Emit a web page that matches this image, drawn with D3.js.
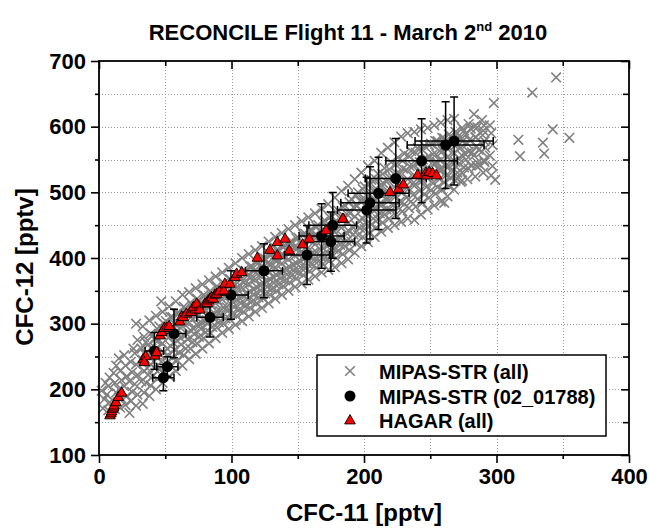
<!DOCTYPE html>
<html><head><meta charset="utf-8">
<script src="https://cdn.jsdelivr.net/npm/d3@7"></script>
<style>
html,body{margin:0;padding:0;background:#fff;}
svg{display:block;font-family:"Liberation Sans",Arial,sans-serif;}
</style></head>
<body><div id="chart"></div>
<script>
// ---------- DATA ----------
const titleMain = "RECONCILE Flight 11 - March 2";
const titleSup = "nd";
const titleEnd = " 2010";
const xLabel = "CFC-11 [pptv]";
const yLabel = "CFC-12 [pptv]";
const xTicks = [0, 100, 200, 300, 400];
const yTicks = [100, 200, 300, 400, 500, 600, 700];
const xMinor = [50, 150, 250, 350];
const yMinor = [150, 250, 350, 450, 550, 650];
const seriesNames = ["MIPAS-STR (all)", "MIPAS-STR (02_01788)", "HAGAR (all)"];

// MIPAS-STR (all): [CFC-11, CFC-12]  (band edges)
const mipasAll = [
[3,171],[4,185],[2,198],[5,210],
[7,168],[8,180],[6,192],[7,205],[8,218],
[12,170],[11,182],[13,195],[12,210],[11,225],[13,236],
[16,172],[17,186],[15,200],[17,214],[16,228],[15,247],
[20,176],[21,190],[19,205],[21,220],[20,236],[19,252],
[23,164],[24,182],[25,196],[23,212],[25,226],[24,242],[26,262],
[28,175],[29,192],[27,208],[29,222],[28,238],[27,255],[28,300],[29,275],
[33,178],[34,195],[32,212],[34,228],[33,245],[32,262],[34,280],[33,296],
[38,190],[39,206],[37,222],[39,238],[38,252],[37,268],[39,285],[38,305],
[43,200],[44,216],[42,232],[44,248],[43,262],[42,276],[44,292],[43,312],
[48,210],[49,226],[47,242],[49,256],[48,270],[47,284],[49,300],[48,318],[47,334],
[53,220],[54,236],[52,252],[54,266],[53,280],[52,294],[54,310],[53,326],
[58,228],[59,244],[57,260],[59,274],[58,288],[57,300],[59,316],[58,334],
[63,236],[64,252],[62,268],[64,282],[63,296],[62,310],[64,326],[63,344],
[68,246],[69,262],[67,276],[69,290],[68,302],[67,316],[69,332],[68,348],
[73,254],[74,270],[72,284],[74,298],[73,310],[72,324],[74,338],[73,354],
[78,262],[79,278],[77,292],[79,305],[78,318],[77,330],[79,344],[78,360],
[83,270],[84,286],[82,300],[84,312],[83,324],[82,336],[84,350],[83,366],
[88,278],[89,294],[87,307],[89,319],[88,331],[87,343],[89,357],[88,372],
[93,286],[94,300],[92,313],[94,325],[93,337],[92,349],[94,362],[93,378],
[98,292],[99,306],[97,319],[99,331],[98,343],[97,355],[99,368],[98,385],
[103,298],[104,312],[102,325],[104,337],[103,349],[102,361],[104,374],[103,392],
[108,304],[109,318],[107,331],[109,343],[108,355],[107,367],[109,381],[108,400],
[113,311],[114,324],[112,337],[114,349],[113,361],[112,373],[114,387],[113,406],
[118,318],[119,331],[117,344],[119,356],[118,368],[117,380],[119,394],[118,412],
[123,324],[124,338],[122,350],[124,362],[123,374],[122,386],[124,400],[123,418],
[128,331],[129,344],[127,356],[129,368],[128,380],[127,392],[129,406],[128,425],
[133,338],[134,350],[132,362],[134,374],[133,386],[132,398],[134,412],[133,432],
[138,344],[139,357],[137,369],[139,380],[138,392],[137,404],[139,418],[138,438],
[143,350],[144,363],[142,375],[144,386],[143,398],[142,410],[144,424],[143,444],
[148,356],[149,369],[147,381],[149,392],[148,404],[147,416],[149,430],[148,450],
[153,361],[154,374],[152,386],[154,398],[153,410],[152,422],[154,436],[153,456],
[158,367],[159,380],[157,392],[159,404],[158,416],[157,428],[159,442],[158,462],
[163,372],[164,385],[162,397],[164,409],[163,421],[162,433],[164,448],[163,468],
[168,378],[169,391],[167,403],[169,415],[168,427],[167,440],[169,455],[168,475],
[173,382],[174,396],[172,409],[174,421],[173,433],[172,446],[174,462],[173,482],
[178,386],[179,400],[177,414],[179,427],[178,440],[177,453],[179,470],[178,492],
[183,392],[184,406],[182,420],[184,433],[183,446],[182,460],[184,478],[183,502],
[188,398],[189,412],[187,426],[189,440],[188,453],[187,467],[189,485],[188,510],
[193,408],[194,422],[192,436],[194,450],[193,463],[192,477],[194,495],[193,520],
[198,418],[199,432],[197,446],[199,460],[198,473],[197,487],[199,505],[198,530],
[203,424],[204,438],[202,452],[204,466],[203,480],[202,494],[204,512],[203,540],
[208,432],[209,446],[207,460],[209,474],[208,488],[207,502],[209,520],[208,548],
[213,440],[214,454],[212,468],[214,482],[213,496],[212,510],[214,528],[213,560],
[218,446],[219,460],[217,474],[219,488],[218,502],[217,516],[219,535],[218,568],
[223,450],[224,466],[222,480],[224,494],[223,508],[222,522],[224,542],[223,576],
[228,455],[229,471],[227,486],[229,500],[228,514],[227,528],[229,548],[228,585],
[233,460],[234,476],[232,492],[234,506],[233,520],[232,534],[234,555],[233,590],
[238,458],[239,478],[237,496],[239,512],[238,526],[237,540],[239,560],[238,592],
[243,466],[244,484],[242,502],[244,518],[243,532],[242,546],[244,565],[243,596],
[248,474],[249,492],[247,508],[249,524],[248,538],[247,552],[249,572],[248,598],
[253,480],[254,498],[252,514],[254,530],[253,544],[252,558],[254,578],[253,602],
[258,486],[259,504],[257,520],[259,535],[258,549],[257,563],[259,583],[258,606],
[263,494],[264,510],[262,526],[264,540],[263,554],[262,568],[264,588],[263,610],
[268,504],[269,518],[267,532],[269,546],[268,560],[267,574],[269,592],[268,612],
[273,516],[274,530],[272,544],[274,556],[273,568],[272,582],[274,598],
[278,520],[279,536],[277,550],[279,562],[278,574],[277,588],[279,604],
[284,524],[285,540],[283,556],[285,570],[284,584],[283,600],[283,619],
[290,530],[291,546],[289,562],[291,578],[290,594],[289,610],
[296,526],[297,540],[295,556],[297,572],[296,590],[295,602],[298,636],[299,519],
[327,652],[345,675],[316.5,580],[317.7,555],[335,575.6],[336,559],[342.4,596],[355,583],
[287.5,541.6],[260.6,484],[274,518],[270,521],[255,546],[257,534]
];
// MIPAS-STR (all): dense core of the band
const mipasCore = [
[35.5,210],[36.5,232],[34.5,254],[35.5,272],
[40.5,220],[41.5,242],[39.5,262],[40.5,282],
[45.5,230],[46.5,252],[44.5,274],[45.5,296],
[50.5,240],[51.5,262],[49.5,284],[50.5,304],
[55.5,248],[56.5,270],[54.5,292],[55.5,310],
[60.5,256],[61.5,278],[59.5,298],[60.5,316],
[65.5,262],[66.5,284],[64.5,304],[65.5,322],
[70.5,272],[71.5,292],[69.5,310],[70.5,328],
[75.5,280],[76.5,298],[74.5,316],[75.5,334],
[80.5,287],[81.5,305],[79.5,323],[80.5,340],
[85.5,295],[86.5,313],[84.5,330],[85.5,346],
[90.5,302],[91.5,319],[89.5,336],[90.5,352],
[95.5,308],[96.5,325],[94.5,342],[95.5,358],
[100.5,315],[101.5,332],[99.5,349],[100.5,365],
[105.5,321],[106.5,338],[104.5,356],[105.5,373],
[110.5,327],[111.5,345],[109.5,363],[110.5,380],
[115.5,334],[116.5,352],[114.5,370],[115.5,387],
[120.5,340],[121.5,358],[119.5,376],[120.5,393],
[125.5,346],[126.5,364],[124.5,382],[125.5,399],
[130.5,353],[131.5,371],[129.5,389],[130.5,406],
[135.5,360],[136.5,378],[134.5,396],[135.5,412],
[140.5,366],[141.5,384],[139.5,402],[140.5,419],
[145.5,373],[146.5,390],[144.5,408],[145.5,425],
[150.5,378],[151.5,396],[149.5,414],[150.5,431],
[155.5,384],[156.5,402],[154.5,420],[155.5,437],
[160.5,390],[161.5,408],[159.5,426],[160.5,443],
[165.5,395],[166.5,414],[164.5,432],[165.5,450],
[170.5,400],[171.5,419],[169.5,438],[170.5,457],
[175.5,405],[176.5,425],[174.5,445],[175.5,464],
[180.5,411],[181.5,432],[179.5,452],[180.5,472],
[185.5,418],[186.5,439],[184.5,460],[185.5,480],
[190.5,425],[191.5,447],[189.5,468],[190.5,490],
[195.5,435],[196.5,457],[194.5,479],[195.5,500],
[200.5,444],[201.5,466],[199.5,488],[200.5,509],
[205.5,451],[206.5,474],[204.5,497],[205.5,519],
[210.5,459],[211.5,482],[209.5,505],[210.5,528],
[215.5,466],[216.5,490],[214.5,514],[215.5,537],
[220.5,472],[221.5,497],[219.5,522],[220.5,546],
[225.5,477],[226.5,503],[224.5,529],[225.5,553],
[230.5,482],[231.5,509],[229.5,536],[230.5,559],
[235.5,486],[236.5,513],[234.5,540],[235.5,563],
[240.5,490],[241.5,518],[239.5,545],[240.5,567],
[245.5,497],[246.5,524],[244.5,550],[245.5,571],
[250.5,503],[251.5,529],[249.5,554],[250.5,574],
[255.5,508],[256.5,534],[254.5,558],[255.5,578],
[260.5,515],[261.5,540],[259.5,563],[260.5,582],
[265.5,522],[266.5,546],[264.5,568],[265.5,586],
[270.5,530],[271.5,552],[269.5,573],[270.5,590],
[275.5,538],[276.5,558],[274.5,578],[275.5,594],
[280.5,541],[281.5,561],[279.5,580],[280.5,597],
[285.5,545],[286.5,565],[284.5,584],[285.5,599],
[290.5,549],[291.5,568],[289.5,587],[290.5,602]
];

// MIPAS-STR (02_01788): CFC-11, CFC-12, error CFC-11, error CFC-12
const mipasX  = [41.8, 48.6, 51.6, 56.6, 83.8, 99.6, 124.5, 157, 168, 175, 176.4, 202, 204.5, 211, 224, 243.5, 261.6, 268];
const mipasY  = [258.4, 217.7, 234.5, 285, 309.7, 343.6, 380.6, 404.5, 433.5, 425, 449.7, 473, 484, 498.5, 521, 548, 572, 578];
const mipasEx = [7, 8, 8, 9, 10, 13, 14, 17, 17, 18, 18, 22, 22, 23, 23, 27, 29, 29.5];
const mipasEy = [28, 20, 15, 37, 30, 37, 41, 45, 49, 45, 50, 50, 55, 55, 61, 64, 66, 67];

// HAGAR (all): [CFC-11, CFC-12]
const hagar = [
[8.3,161],[9,164],[9.6,167],[10.3,171],[11,173],[11.3,176],[12.8,181],[14.6,189],[17.1,195.5],
[33.4,247],[35.2,251],[42.3,252],[34.2,242],[43.5,257],[46,282.7],[47.3,287.8],[49.3,294],[51,294.5],[53,297],
[61.1,304],[62.4,311.7],[63.6,310.6],[66,315.8],[68.7,318],[70,318.5],[72.5,322],[71.2,325.8],[74.9,328.4],
[73.7,331],[76.2,322],[80,331],[81.7,332],[82.5,336],[83.8,338.6],[85,341],[86.2,338.6],[87.5,344.7],
[88.8,346],[90.8,349.7],[94.3,351],[95,361.5],[98.9,361.4],[102.6,371.5],[103.9,376.7],[107.7,379],
[119.5,401],[129,413],[134.6,404.5],[134.6,424.8],[140.4,430],[143.6,412],[153.7,421.3],[158.7,430],
[171.3,442.6],[184.4,460],[184,460.5],[219.6,501],[226,506],[229.7,512.7],
[240.5,527.5],[246.8,530.5],[247.3,526.4],[249.3,531.5],[251.8,530],[254.8,526.4]
];

// ---------- CHART ----------
const W = 650, H = 529;
const svg = d3.select("#chart").append("svg").attr("width", W).attr("height", H);
const x = d3.scaleLinear().domain([0, 400]).range([99, 629]);
const y = d3.scaleLinear().domain([100, 700]).range([455, 61]);

// grid
const grid = svg.append("g").attr("stroke", "#9a9a9a").attr("stroke-width", 1).attr("stroke-dasharray", "1,2");
const gx = xTicks.concat(xMinor).filter(v => v > 0 && v < 400);
const gy = yTicks.concat(yMinor).filter(v => v > 100 && v < 700);
grid.selectAll("line.gx").data(gx).join("line").attr("x1", d => Math.round(x(d)) + 0.5).attr("x2", d => Math.round(x(d)) + 0.5).attr("y1", y(700)).attr("y2", y(100));
grid.selectAll("line.gy").data(gy).join("line").attr("y1", d => Math.round(y(d)) + 0.5).attr("y2", d => Math.round(y(d)) + 0.5).attr("x1", x(0)).attr("x2", x(400));

// MIPAS all (gray crosses)
const cs = 4.8;
const cross = (px, py) => `M${px-cs},${py-cs}L${px+cs},${py+cs}M${px-cs},${py+cs}L${px+cs},${py-cs}`;
svg.append("g").attr("stroke", "#808080").attr("stroke-width", 1.6).attr("fill", "none")
  .selectAll("path").data(mipasAll.concat(mipasCore)).join("path")
  .attr("d", d => cross(x(d[0]), y(d[1])));

// MIPAS 02_01788 with error bars
const mip = mipasX.map((v, i) => ({x: v, y: mipasY[i], ex: mipasEx[i], ey: mipasEy[i]}));
const eb = svg.append("g").attr("stroke", "#000").attr("stroke-width", 1.5).attr("fill", "none");
const cap = 4;
eb.selectAll("path").data(mip).join("path").attr("d", d => {
  const px = x(d.x), py = y(d.y);
  const x0 = x(d.x - d.ex), x1 = x(d.x + d.ex), y0 = y(d.y - d.ey), y1 = y(d.y + d.ey);
  return `M${x0},${py}L${x1},${py}M${x0},${py-cap}L${x0},${py+cap}M${x1},${py-cap}L${x1},${py+cap}` +
         `M${px},${y0}L${px},${y1}M${px-cap},${y0}L${px+cap},${y0}M${px-cap},${y1}L${px+cap},${y1}`;
});
svg.append("g").selectAll("circle").data(mip).join("circle")
  .attr("cx", d => x(d.x)).attr("cy", d => y(d.y)).attr("r", 5.5).attr("fill", "#000");

// HAGAR triangles
const tri = (px, py) => `M${px},${py-5.4}L${px+5.3},${py+3.9}L${px-5.3},${py+3.9}Z`;
svg.append("g").attr("fill", "#ff0000").attr("stroke", "#000").attr("stroke-width", 0.9)
  .selectAll("path").data(hagar).join("path").attr("d", d => tri(x(d[0]), y(d[1])));

// axes
const fontTick = 22;
function styleAxis(g) {
  g.select(".domain").remove();
  g.selectAll(".tick line").attr("stroke", "#000").attr("stroke-width", 1.6);
  g.selectAll("text").attr("font-size", fontTick).attr("font-weight", "bold").attr("fill", "#000")
   .attr("font-family", "'Liberation Sans', Arial, sans-serif");
}
svg.append("g").attr("transform", `translate(0,${y(100)})`)
  .call(d3.axisBottom(x).tickValues(xTicks).tickSize(8).tickPadding(5).tickFormat(d3.format("d"))).call(styleAxis);
svg.append("g").attr("transform", `translate(0,${y(100)})`)
  .call(d3.axisBottom(x).tickValues(xMinor).tickSize(4).tickFormat("")).call(styleAxis);
svg.append("g").attr("transform", `translate(${x(0)},0)`)
  .call(d3.axisLeft(y).tickValues(yTicks).tickSize(8).tickPadding(5).tickFormat(d3.format("d"))).call(styleAxis);
svg.append("g").attr("transform", `translate(${x(0)},0)`)
  .call(d3.axisLeft(y).tickValues(yMinor).tickSize(4).tickFormat("")).call(styleAxis);
// top / right mirrored inward ticks
svg.append("g").attr("transform", `translate(0,${y(700)})`)
  .call(d3.axisBottom(x).tickValues(xTicks).tickSize(8).tickFormat("")).call(styleAxis);
svg.append("g").attr("transform", `translate(0,${y(700)})`)
  .call(d3.axisBottom(x).tickValues(xMinor).tickSize(5).tickFormat("")).call(styleAxis);
svg.append("g").attr("transform", `translate(${x(400)},0)`)
  .call(d3.axisLeft(y).tickValues(yTicks).tickSize(8).tickFormat("")).call(styleAxis);
svg.append("g").attr("transform", `translate(${x(400)},0)`)
  .call(d3.axisLeft(y).tickValues(yMinor).tickSize(6).tickFormat("")).call(styleAxis);
// frame
svg.append("rect").attr("x", x(0)).attr("y", y(700)).attr("width", x(400) - x(0)).attr("height", y(100) - y(700))
  .attr("fill", "none").attr("stroke", "#000").attr("stroke-width", 1.8);

// title
const t = svg.append("text").attr("x", 348).attr("y", 40).attr("text-anchor", "middle")
  .attr("font-size", 22).attr("font-weight", "bold");
t.append("tspan").text(titleMain);
t.append("tspan").attr("font-size", 13).attr("dy", -9).text(titleSup);
t.append("tspan").attr("dy", 9).text(titleEnd);

// axis titles
svg.append("text").attr("x", 364).attr("y", 521).attr("text-anchor", "middle")
  .attr("font-size", 24).attr("font-weight", "bold").text(xLabel);
svg.append("text").attr("transform", "translate(33,267) rotate(-90)").attr("text-anchor", "middle")
  .attr("font-size", 24).attr("font-weight", "bold").text(yLabel);

// legend
const lg = svg.append("g");
lg.append("rect").attr("x", 317).attr("y", 355).attr("width", 289).attr("height", 81)
  .attr("fill", "#fff").attr("stroke", "#000").attr("stroke-width", 1.5);
const rows = [371, 396, 420];
const lx = 350;
lg.append("path").attr("d", cross(lx, rows[0])).attr("stroke", "#808080").attr("stroke-width", 1.6);
lg.append("circle").attr("cx", lx).attr("cy", rows[1]).attr("r", 5.5).attr("fill", "#000");
lg.append("path").attr("d", tri(lx, rows[2])).attr("fill", "#ff0000").attr("stroke", "#000").attr("stroke-width", 0.9);
lg.selectAll("text.l").data(seriesNames).join("text").attr("x", 379).attr("y", (d, i) => rows[i] + 7.5)
  .attr("font-size", 20).attr("font-weight", "bold").text(d => d);
</script></body></html>
